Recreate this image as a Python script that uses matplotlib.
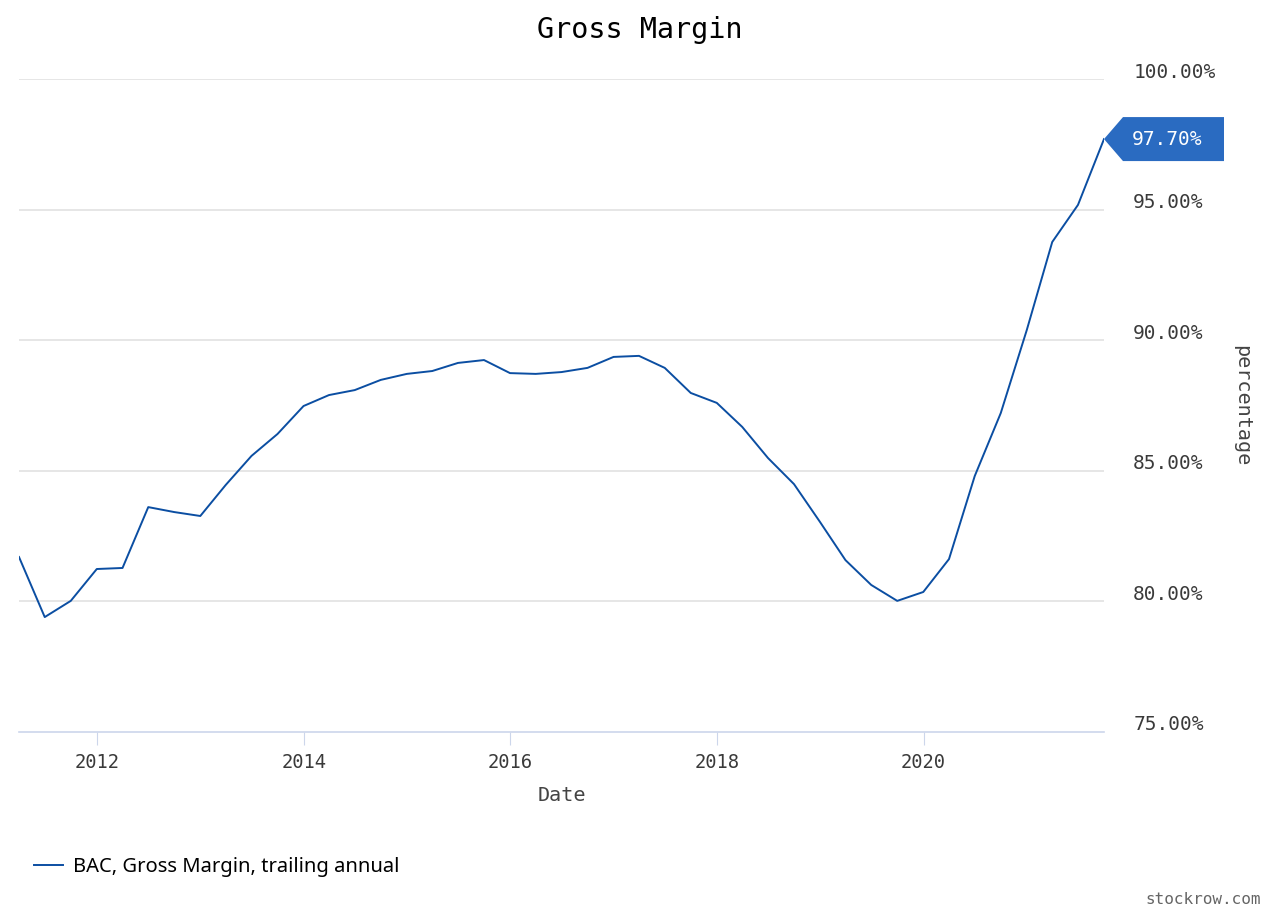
import numpy as np
import pandas as pd
import matplotlib
matplotlib.use("Agg")
import matplotlib.pyplot as plt
import matplotlib.dates as mdates
import matplotlib.transforms as mtransforms
from matplotlib.patches import Polygon
from matplotlib.lines import Line2D

# quarterly trailing annual gross margin, BAC
dates = pd.date_range("2011-03-31", "2021-09-30", freq="QE")
margin = [81.70, 79.40, 80.02, 81.24, 81.28, 83.61, 83.42, 83.27, 84.46, 85.57,
          86.41, 87.48, 87.90, 88.09, 88.48, 88.71, 88.82, 89.13, 89.24, 88.74,
          88.71, 88.78, 88.94, 89.36, 89.40, 88.94, 87.98, 87.60, 86.68, 85.49,
          84.49, 83.04, 81.58, 80.63, 80.02, 80.36, 81.62, 84.80, 87.21, 90.39,
          93.76, 95.18, 97.70]
yticks = [75, 80, 85, 90, 95, 100]
year_ticks = [2012, 2014, 2016, 2018, 2020]

mono = "DejaVu Sans Mono"
line_color = "#0b4ea2"
box_color = "#2a6bc1"

fig = plt.figure(figsize=(12.8, 9.14), dpi=100)
ax = fig.add_axes([19 / 1280, 1 - 732 / 914, (1104 - 19) / 1280, (732 - 79) / 914])

ax.plot(dates, margin, color=line_color, lw=1.4)
ax.set_xlim(dates[0], dates[-1])
ax.set_ylim(75, 100)

for v in yticks[1:]:
    ax.axhline(v, color="#e1e1e1", lw=1.2, zorder=0)

ax.yaxis.tick_right()
ax.set_yticks(yticks)
ax.set_yticklabels([f"{v:.2f}%" for v in yticks], fontfamily=mono, fontsize=14, color="#3a3a3a")
ax.tick_params(axis="y", length=0, pad=21)
# labels sit a little above their grid lines
shift = mtransforms.ScaledTranslation(0, 9 / 100, fig.dpi_scale_trans)
for lab in ax.get_yticklabels():
    lab.set_transform(lab.get_transform() + shift)
ax.yaxis.set_label_position("right")
ax.set_ylabel("percentage", fontfamily=mono, fontsize=14.5, color="#444444", rotation=-90, labelpad=26)

ax.set_xticks([pd.Timestamp(f"{y}-01-01") for y in year_ticks])
ax.xaxis.set_major_formatter(mdates.DateFormatter("%Y"))
ax.tick_params(axis="x", length=9, color="#ccd6eb", labelsize=13.5, labelcolor="#3a3a3a", pad=6)
for lab in ax.get_xticklabels():
    lab.set_fontfamily(mono)
ax.set_xlabel("Date", fontfamily=mono, fontsize=14.5, color="#444444", labelpad=10)

for side in ["top", "left", "right"]:
    ax.spines[side].set_visible(False)
ax.spines["bottom"].set_color("#ccd6eb")
ax.spines["bottom"].set_linewidth(1.2)

fig.suptitle("Gross Margin", fontfamily=mono, fontsize=20.5, y=1 - 30 / 914, va="center")

# last value flag
tip = ax.transData.transform((mdates.date2num(dates[-1]), margin[-1]))
flag = np.array([[0, 0], [19, 22], [120, 22], [120, -22], [19, -22]]) + tip
ax.add_patch(Polygon(flag, closed=True, transform=None, facecolor=box_color,
                     edgecolor="none", clip_on=False, zorder=5))
fig.text((tip[0] + 28) / 1280, tip[1] / 914, f"{margin[-1]:.2f}%", fontfamily=mono,
         fontsize=14, color="white", va="center", ha="left", zorder=6)

# legend and credit
handle = Line2D([], [], color=line_color, lw=1.4)
fig.legend([handle], ["BAC, Gross Margin, trailing annual"], loc="center left",
           bbox_to_anchor=(16 / 1280, 1 - 867 / 914), frameon=False,
           prop={"family": "Noto Sans", "size": 14.5}, handlelength=1.45, handletextpad=0.5)
fig.text(1261 / 1280, 1 - 899 / 914, "stockrow.com", fontfamily=mono, fontsize=11.5,
         color="#666666", ha="right", va="center")

fig.savefig("out.png", dpi=100, facecolor="white")
